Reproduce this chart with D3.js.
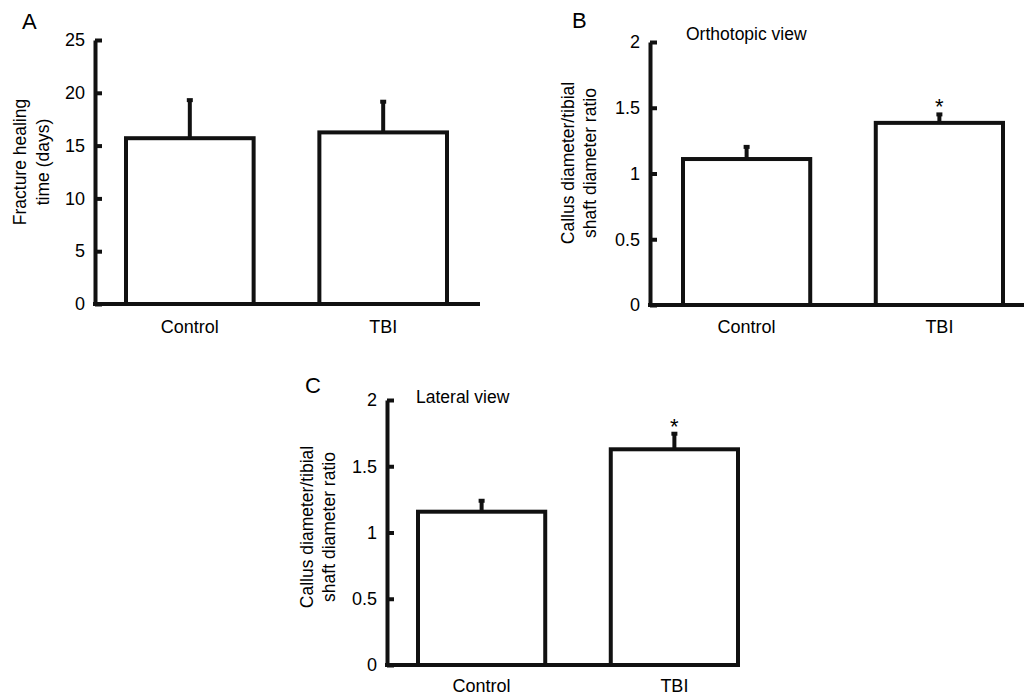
<!DOCTYPE html>
<meta charset="utf-8">
<style>
body {
  margin: 0;
  background: #fff;
}
text {
  font-family: "Liberation Sans", Arial, sans-serif;
  fill: #000;
}
.bar {
  fill: #fff;
  stroke: #111;
  stroke-width: 4px;
}
.err, .axisline {
  stroke: #111;
  stroke-width: 4px;
  fill: none;
}
</style>
<body>
<script src="https://d3js.org/d3.v7.min.js"></script>
<script>

var width = 1024,
    height = 697;

// data
var groups = ["Control", "TBI"];
var healingMean = [15.7, 16.25],
    healingErr = [3.7, 3.0];
var orthoMean = [1.11, 1.385],
    orthoErr = [0.10, 0.072];
var lateralMean = [1.157, 1.628],
    lateralErr = [0.09, 0.125];
var signif = ["", "*"];
var healingTicks = [0, 5, 10, 15, 20, 25],
    ratioTicks = [0, 0.5, 1, 1.5, 2];

var svg = d3.select("body").append("svg")
    .attr("width", width)
    .attr("height", height);

var panels = [
  {letter: "A", lx: 22, ly: 29, mean: healingMean, err: healingErr, stars: null,
   ticks: healingTicks, ymax: 25, ax: 95, y0: 304, y1: 40, bars: [126, 447], xEnd: 480,
   ylab: ["Fracture healing", "time (days)"], ylx: [20, 43], lyc: 162, catY: 333, title: null},
  {letter: "B", lx: 572, ly: 28, mean: orthoMean, err: orthoErr, stars: signif,
   ticks: ratioTicks, ymax: 2, ax: 650, y0: 305, y1: 42, bars: [683, 1003], xEnd: 1024,
   ylab: ["Callus diameter/tibial", "shaft diameter ratio"], ylx: [568, 590], lyc: 163, catY: 333,
   title: "Orthotopic view", tx: 686, ty: 40},
  {letter: "C", lx: 305, ly: 393, mean: lateralMean, err: lateralErr, stars: signif,
   ticks: ratioTicks, ymax: 2, ax: 387, y0: 665, y1: 400, bars: [418, 738], xEnd: 740,
   ylab: ["Callus diameter/tibial", "shaft diameter ratio"], ylx: [307, 329], lyc: 527, catY: 692,
   title: "Lateral view", tx: 416, ty: 403}
];

panels.forEach(function(p) {
  var g = svg.append("g");

  var y = d3.scaleLinear().domain([0, p.ymax]).range([p.y0, p.y1]);
  var x = d3.scaleBand().domain(groups).range(p.bars).paddingInner(0.34).paddingOuter(0);

  // bars
  g.selectAll(".bar")
      .data(groups)
    .enter().append("rect")
      .attr("class", "bar")
      .attr("x", function(d) { return x(d); })
      .attr("width", x.bandwidth())
      .attr("y", function(d, i) { return y(p.mean[i]); })
      .attr("height", function(d, i) { return p.y0 - y(p.mean[i]); });

  // error bars (upper only)
  groups.forEach(function(d, i) {
    var cx = x(d) + x.bandwidth() / 2,
        top = y(p.mean[i] + p.err[i]);
    g.append("line").attr("class", "err")
        .attr("x1", cx).attr("x2", cx)
        .attr("y1", y(p.mean[i])).attr("y2", top);
    g.append("line").attr("class", "err")
        .attr("x1", cx - 3).attr("x2", cx + 3)
        .attr("y1", top + 1).attr("y2", top + 1);
    if (p.stars && p.stars[i]) {
      g.append("text")
          .attr("x", cx).attr("y", top + 1)
          .attr("text-anchor", "middle")
          .style("font-size", "22px")
          .text(p.stars[i]);
    }
  });

  // y axis
  var yAxis = d3.axisLeft(y)
      .tickValues(p.ticks)
      .tickFormat(function(d) { return String(d); })
      .tickSizeInner(-7)
      .tickSizeOuter(0)
      .tickPadding(10);
  var ya = g.append("g")
      .attr("transform", "translate(" + p.ax + ",0)")
      .call(yAxis);
  ya.select(".domain").attr("stroke", "#111").attr("stroke-width", 4);
  ya.selectAll(".tick line").attr("stroke", "#111").attr("stroke-width", 4);
  ya.selectAll(".tick text")
      .attr("fill", "#000")
      .style("font-size", "18px")
      .style("font-family", "'Liberation Sans', Arial, sans-serif");

  // x axis line
  g.append("line").attr("class", "axisline")
      .attr("x1", p.ax - 2).attr("x2", p.xEnd)
      .attr("y1", p.y0).attr("y2", p.y0);

  // category labels
  g.selectAll(".cat")
      .data(groups)
    .enter().append("text")
      .attr("x", function(d) { return x(d) + x.bandwidth() / 2; })
      .attr("y", p.catY)
      .attr("text-anchor", "middle")
      .style("font-size", "18px")
      .text(function(d) { return d; });

  // y label, two lines
  p.ylab.forEach(function(t, i) {
    g.append("text")
        .attr("transform", "translate(" + p.ylx[i] + "," + p.lyc + ") rotate(-90)")
        .attr("text-anchor", "middle")
        .attr("dominant-baseline", "central")
        .style("font-size", "17.5px")
        .text(t);
  });

  if (p.title) {
    g.append("text")
        .attr("x", p.tx).attr("y", p.ty)
        .style("font-size", "17.5px")
        .text(p.title);
  }

  g.append("text")
      .attr("x", p.lx).attr("y", p.ly)
      .style("font-size", "22px")
      .text(p.letter);
});

</script>
